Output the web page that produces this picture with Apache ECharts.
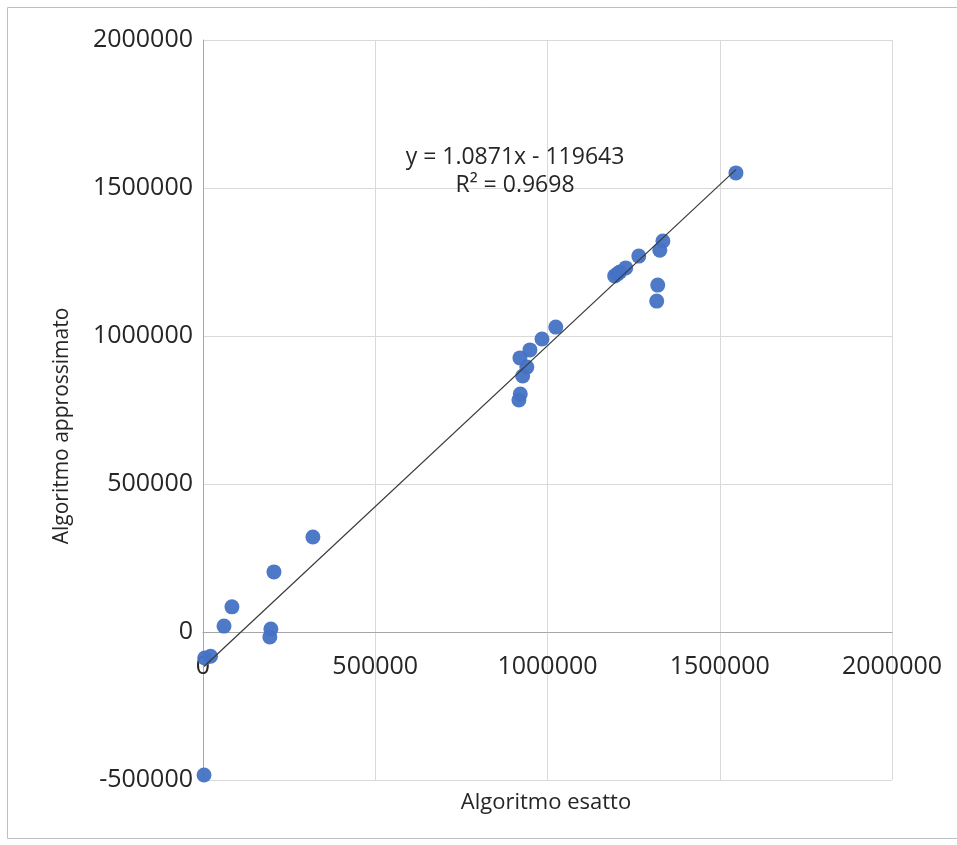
<!DOCTYPE html>
<html>
<head>
<meta charset="utf-8">
<title>Algoritmo esatto vs approssimato</title>
<script src="https://cdn.jsdelivr.net/npm/echarts@6/dist/echarts.min.js"></script>
<style>
  html, body { margin: 0; padding: 0; background: #ffffff; }
  #chart { width: 957px; height: 845px; }
</style>
</head>
<body>
<div id="chart"></div>
<script>
// Exact algorithm results (x) against the approximated algorithm (y)
const exactValues = [
  3000, 5000, 22000, 61000, 84000, 194000, 197000, 206000, 319000,
  917000, 921000, 928000, 940000, 920000, 949000, 984000, 1024000,
  1195000, 1203000, 1210000, 1227000, 1265000,
  1317000, 1320000, 1326000, 1335000, 1547000
];
const approxValues = [
  -483000, -88000, -82000, 20000, 85000, -17000, 10000, 203000, 321000,
  784000, 804000, 865000, 895000, 926000, 953000, 990000, 1030000,
  1203000, 1210000, 1216000, 1230000, 1270000,
  1118000, 1172000, 1290000, 1321000, 1551000
];

// Linear trend line as reported in the equation label
const trendSlope = 1.0871;
const trendIntercept = -119643;
const trendR2 = 0.9698;

const xTicks = { min: 0, max: 2000000, step: 500000 };
const yTicks = { min: -500000, max: 2000000, step: 500000 };

const points = exactValues.map((x, i) => [x, approxValues[i]]);
const xMin = Math.min(...exactValues);
const xMax = Math.max(...exactValues);
const trendPoints = [xMin, xMax].map(x => [x, trendSlope * x + trendIntercept]);

const fontFamily = "'Open Sans', 'Liberation Sans', sans-serif";
const textColor = '#262626';

const gridBox = { left: 203, right: 65, top: 40, bottom: 65 };
const plotHeight = 845 - gridBox.top - gridBox.bottom;
// horizontal axis sits on y = 0, so shift it up from the bottom edge
const xAxisShift = -plotHeight * (0 - yTicks.min) / (yTicks.max - yTicks.min);

const plainNumber = v => String(v);

const chart = echarts.init(document.getElementById('chart'), null, { renderer: 'canvas' });
chart.setOption({
  animation: false,
  backgroundColor: '#ffffff',
  grid: Object.assign({ containLabel: false }, gridBox),
  xAxis: {
    type: 'value',
    min: xTicks.min, max: xTicks.max, interval: xTicks.step,
    offset: xAxisShift,
    axisLine: { onZero: false, lineStyle: { color: '#a6a6a6', width: 1 } },
    axisTick: { show: false },
    axisLabel: { color: textColor, fontSize: 25, fontFamily, margin: 22, formatter: plainNumber },
    splitLine: { show: true, lineStyle: { color: '#d9d9d9', width: 1 } }
  },
  yAxis: {
    type: 'value',
    min: yTicks.min, max: yTicks.max, interval: yTicks.step,
    axisLine: { show: true, onZero: false, lineStyle: { color: '#a6a6a6', width: 1 } },
    axisTick: { show: false },
    axisLabel: { color: textColor, fontSize: 25, fontFamily, margin: 10, formatter: plainNumber },
    splitLine: { show: true, lineStyle: { color: '#d9d9d9', width: 1 } }
  },
  series: [
    {
      type: 'line',
      data: trendPoints,
      showSymbol: false,
      symbol: 'none',
      lineStyle: { color: '#3a3a3a', width: 1.2 },
      z: 3,
      silent: true
    },
    {
      type: 'scatter',
      data: points,
      symbol: 'circle',
      symbolSize: 15,
      itemStyle: { color: '#4472c4', opacity: 0.95 },
      z: 2
    }
  ],
  graphic: [
    {
      type: 'rect',
      shape: { x: 7.5, y: 7.5, width: 960, height: 831 },
      style: { fill: 'none', stroke: '#bfbfbf', lineWidth: 1 },
      silent: true, z: -10
    },
    {
      type: 'text',
      x: 546, y: 803,
      style: {
        text: 'Algoritmo esatto', fill: textColor, font: "22px " + fontFamily,
        textAlign: 'center', textVerticalAlign: 'middle'
      }
    },
    {
      type: 'text',
      x: 62, y: 426, rotation: Math.PI / 2,
      style: {
        text: 'Algoritmo approssimato', fill: textColor, font: "21px " + fontFamily,
        textAlign: 'center', textVerticalAlign: 'middle'
      }
    },
    {
      type: 'text',
      x: 515, y: 157,
      style: {
        text: 'y = ' + trendSlope.toFixed(4) + 'x - ' + Math.abs(trendIntercept),
        fill: textColor, font: "23px " + fontFamily,
        textAlign: 'center', textVerticalAlign: 'middle'
      },
      z: 10
    },
    {
      type: 'text',
      x: 515, y: 185,
      style: {
        text: 'R² = ' + trendR2.toFixed(4),
        fill: textColor, font: "23px " + fontFamily,
        textAlign: 'center', textVerticalAlign: 'middle'
      },
      z: 10
    }
  ]
});
</script>
</body>
</html>
